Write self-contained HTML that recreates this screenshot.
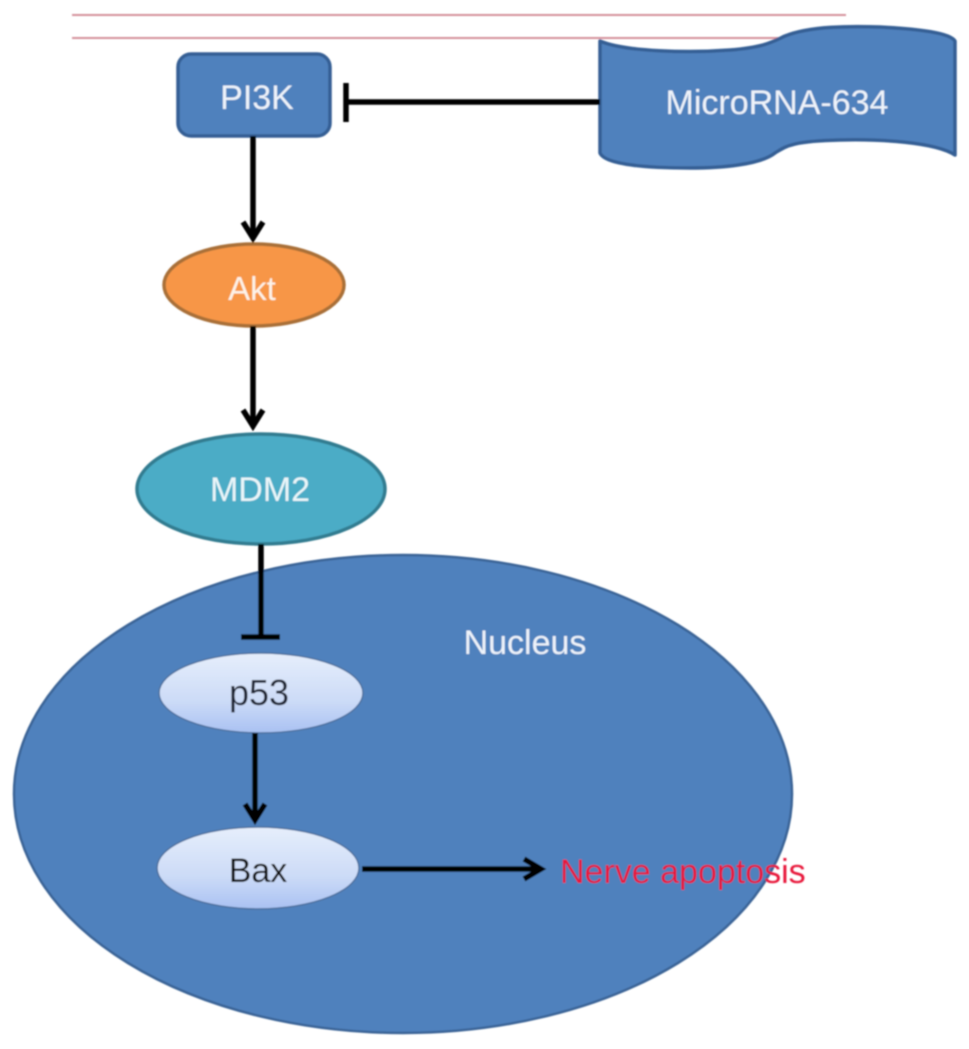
<!DOCTYPE html>
<html>
<head>
<meta charset="utf-8">
<style>
html,body{margin:0;padding:0;background:#fff;width:969px;height:1049px;overflow:hidden}
svg{display:block}
text{font-family:"Liberation Sans",sans-serif}
</style>
</head>
<body>
<svg width="969" height="1049" viewBox="0 0 969 1049" xmlns="http://www.w3.org/2000/svg">
<defs>
<linearGradient id="g" x1="0" y1="0" x2="0" y2="1">
<stop offset="0" stop-color="#e6eefb"/>
<stop offset="0.6" stop-color="#ccdbf7"/>
<stop offset="1" stop-color="#a9c1f2"/>
</linearGradient>
<filter id="b" x="-5%" y="-5%" width="110%" height="110%"><feGaussianBlur stdDeviation="0.8"/></filter>
</defs>
<g filter="url(#b)">
<line x1="72" y1="15" x2="846" y2="15" stroke="#d4919b" stroke-width="2"/>
<line x1="72" y1="38" x2="780" y2="38" stroke="#d4919b" stroke-width="2"/>

<ellipse cx="403" cy="794" rx="389" ry="239" fill="#4f81bd" stroke="#3a6496" stroke-width="2.5"/>

<rect x="178" y="54" width="152" height="82" rx="13" ry="13" fill="#4f81bd" stroke="#345f94" stroke-width="3.5"/>

<path d="M600 41 C625 52 690 53 730 50 C765 47 772 42 785 36 C810 26 850 26 880 27 C920 29 950 33 955 41 L955 155 C935 142 880 139 840 140 C790 141 785 147 775 153 C760 165 720 168 690 168 C650 168 605 165 600 153 Z" fill="#4f81bd" stroke="#345f94" stroke-width="3.5" stroke-linejoin="round"/>

<ellipse cx="254" cy="285" rx="90" ry="41" fill="#f79646" stroke="#a96f38" stroke-width="3.5"/>
<ellipse cx="261" cy="489" rx="124" ry="55" fill="#4bacc6" stroke="#327c90" stroke-width="3.5"/>
<ellipse cx="261" cy="693" rx="102" ry="40" fill="url(#g)" stroke="#4c6f9e" stroke-width="1.5"/>
<ellipse cx="258" cy="868" rx="101" ry="41" fill="url(#g)" stroke="#4c6f9e" stroke-width="1.5"/>

<g stroke="#000" stroke-width="5.5" fill="none">
<line x1="346" y1="102" x2="600" y2="102"/>
<line x1="346" y1="83" x2="346" y2="122"/>
<line x1="253" y1="136" x2="253" y2="238"/>
<path d="M243 222 L253 238 L263 222"/>
<line x1="253" y1="326" x2="253" y2="426"/>
<path d="M243 410 L253 426 L263 410"/>
<line x1="261" y1="544" x2="261" y2="637"/>
<line x1="241" y1="637" x2="280" y2="637"/>
<line x1="255" y1="733" x2="255" y2="820"/>
<path d="M245 804 L255 820 L265 804"/>
<line x1="362" y1="869" x2="540" y2="869"/>
<path d="M524 859 L541 869 L524 879"/>
</g>

<g font-size="34" text-anchor="middle">
<text x="257" y="109" fill="#eef3fa">PI3K</text>
<text x="777" y="114" fill="#eef3fa">MicroRNA-634</text>
<text x="252" y="300" fill="#fdf3e8" font-size="33">Akt</text>
<text x="260" y="501" fill="#eaf6f9">MDM2</text>
<text x="525" y="654" fill="#eef3fa">Nucleus</text>
<text x="259" y="705" fill="#1a2233" font-size="36">p53</text>
<text x="258" y="882" fill="#111">Bax</text>
</g>
<text x="560" y="883" font-size="34" fill="#e8173a">Nerve apoptosis</text>
</g>
</svg>
</body>
</html>
